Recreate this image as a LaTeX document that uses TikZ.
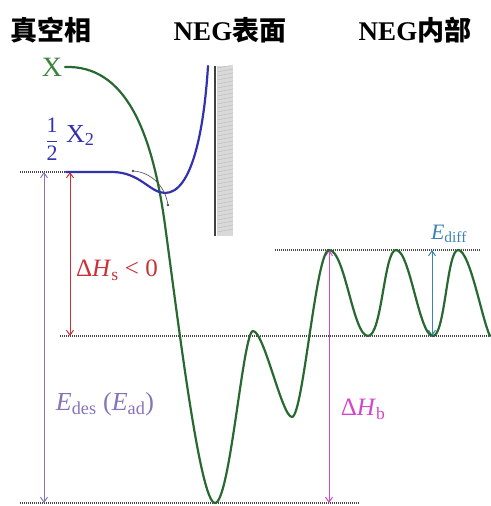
\documentclass[tikz,border=0pt]{standalone}
\usepackage{fontspec}
\setmainfont{Liberation Serif}
\newfontfamily\cjkfont{Noto Sans CJK SC}
\usetikzlibrary{arrows.meta}
\definecolor{gcurve}{RGB}{40,105,50}
\definecolor{glabel}{RGB}{60,130,60}
\definecolor{bcurve}{RGB}{50,50,175}
\definecolor{redc}{RGB}{200,50,55}
\definecolor{purc}{RGB}{135,115,185}
\definecolor{magc}{RGB}{210,70,200}
\definecolor{diffc}{RGB}{60,130,180}
\definecolor{dotc}{RGB}{70,70,70}
\begin{document}
\begin{tikzpicture}[x=1pt,y=-1pt,
  title/.style={font=\fontsize{27}{30}\selectfont\bfseries, inner sep=0pt},
  level/.style={dotc, line width=1.6pt, dash pattern=on 1pt off 1pt},
  curve/.style={line width=2.2pt, line cap=round},
  dimarrow/.style={line width=1pt, {Straight Barb[length=5pt,width=7pt]}-{Straight Barb[length=5pt,width=7pt]}},
  lab/.style={inner sep=0pt}]
\useasboundingbox (0,0) rectangle (490,506);
% titles
\node[title] (t1) at (51,30) {\cjkfont 真空相};
\node[title] (t2) at (230,30) {NEG\cjkfont 表面};
\node[title] (t3) at (415,30) {NEG\cjkfont 内部};
% wall
\fill[gray!30] (217,66) rectangle (233,236);
\foreach \yy in {68,72,...,234} \draw[gray!55, line width=0.4pt] (217,\yy) -- (233,\yy-3);
\draw[black!75, line width=1.8pt] (215,66) -- (215,236);
% level coordinates
\coordinate (lt0) at (20,172);
\coordinate (lt1) at (66,172);
\coordinate (lm0) at (60,336);
\coordinate (lm1) at (490,336);
\coordinate (lb0) at (20,503);
\coordinate (lb1) at (360,503);
\coordinate (lu0) at (275,250);
\coordinate (lu1) at (480,250);
\draw[level] (lt0) -- (lt1);
\draw[level] (lm0) -- (lm1);
\draw[level] (lb0) -- (lb1);
\draw[level] (lu0) -- (lu1);
% arrows
\coordinate (pa) at (44,172);
\coordinate (pb) at (44,503);
\coordinate (ra) at (70,172);
\coordinate (rb) at (70,336);
\coordinate (ma) at (329,250);
\coordinate (mb) at (329,503);
\coordinate (da) at (432,336);
\coordinate (db) at (432,250);
\draw[dimarrow, purc] (pa) -- (pb);
\draw[dimarrow, redc] (ra) -- (rb);
\draw[dimarrow, magc] (ma) -- (mb);
\draw[dimarrow, diffc] (da) -- (db);
% green curve
\draw[curve, gcurve] (65,67) .. controls (125,65) and (152,130) .. (165,225)
  .. controls (178,320) and (200,503) .. (215,503)
  .. controls (230,503) and (243,331) .. (253,331)
  .. controls (264,331) and (282,417) .. (292,417)
  .. controls (303,417) and (316,250) .. (329,250)
  .. controls (345,250) and (353,336) .. (368,336)
  .. controls (382,336) and (384,250) .. (396,250)
  .. controls (410,250) and (419,336) .. (433,336)
  .. controls (445,336) and (447,250) .. (458,250)
  .. controls (470,250) and (482,320) .. (490,336);
% blue curve
\draw[curve, bcurve] (lt1) -- (112,172) .. controls (140,172) and (150,193) .. (165,193)
  .. controls (192,193) and (204,130) .. (208,66);
% small curved arrow
\coordinate (sa) at (133,171);
\coordinate (sb) at (168,205);
\draw[black!70, line width=0.6pt] (sa) .. controls (150,172) and (165,185) .. (sb);
\fill[black!70] (sa) circle (1.3);
\fill[black!70] (sb) circle (1.3);
% labels
\node[lab, glabel, font=\fontsize{28}{30}\selectfont] (lx) at (52,67) {X};
\node[lab, bcurve, font=\fontsize{22}{24}\selectfont] (lfr) at (52,139) {$\displaystyle\frac{\hbox{1}}{\hbox{2}}$};
\node[lab, bcurve, font=\fontsize{26}{28}\selectfont, anchor=base west] (lx2) at (66,142) {X\textsubscript{2}};
\node[lab, redc, font=\fontsize{25}{27}\selectfont] (lhs) at (117,270) {Δ\textit{H}\textsubscript{s} < 0};
\node[lab, purc, font=\fontsize{26}{28}\selectfont] (led) at (105,404) {\textit{E}\textsubscript{des} (\textit{E}\textsubscript{ad})};
\node[lab, magc, font=\fontsize{25}{27}\selectfont] (lhb) at (363,409) {Δ\textit{H}\textsubscript{b}};
\node[lab, diffc, font=\fontsize{22}{24}\selectfont] (ldf) at (449,234) {\textit{E}\textsubscript{diff}};
\end{tikzpicture}
\end{document}
